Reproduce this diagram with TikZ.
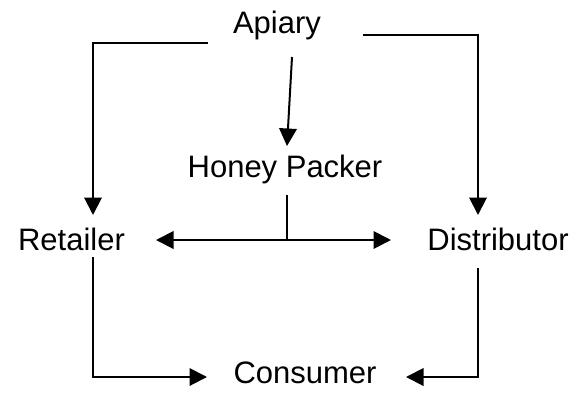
\documentclass[tikz,border=0pt]{standalone}
\usepackage{fontspec}
\setmainfont{Liberation Sans}
\usetikzlibrary{arrows.meta}
\begin{document}
\begin{tikzpicture}[x=1pt,y=-1pt,
  lbl/.style={anchor=base,inner sep=0pt,font=\fontsize{31}{37}\selectfont},
  tip/.tip={Triangle[length=17.5pt,width=17.5pt]},
  conn/.style={line width=2pt,-tip},
  plain/.style={line width=2pt}]
\useasboundingbox[fill=white] (0,0) rectangle (578,397);
\node[lbl] (apiary) at (277,33) {Apiary};
\node[lbl] (packer) at (285,177) {Honey Packer};
\node[lbl] (retailer) at (71.5,250) {Retailer};
\node[lbl] (distributor) at (498,250) {Distributor};
\node[lbl] (consumer) at (305,383) {Consumer};
% coordinates
\coordinate (aL) at (208,43);
\coordinate (aLc) at (93,43);
\coordinate (rTop) at (93,215);
\coordinate (aR) at (363,35);
\coordinate (aRc) at (478,35);
\coordinate (dTop) at (478,215);
\coordinate (aM) at (292,57);
\coordinate (pTop) at (287,146);
\coordinate (pBot) at (287,195);
\coordinate (jn) at (287,240);
\coordinate (rRight) at (156,240);
\coordinate (dLeft) at (391,240);
\coordinate (rBot) at (93,257);
\coordinate (rc) at (93,377);
\coordinate (cLeft) at (207,377);
\coordinate (dBot) at (478,268);
\coordinate (dc) at (478,377);
\coordinate (cRight) at (406,377);
% connectors
\draw[conn] (aL) -- (aLc) -- (rTop);
\draw[conn] (aR) -- (aRc) -- (dTop);
\draw[conn] (aM) -- (pTop);
\draw[plain] (pBot) -- (jn);
\draw[conn,tip-tip] (rRight) -- (dLeft);
\draw[conn] (rBot) -- (rc) -- (cLeft);
\draw[conn] (dBot) -- (dc) -- (cRight);
\end{tikzpicture}
\end{document}
